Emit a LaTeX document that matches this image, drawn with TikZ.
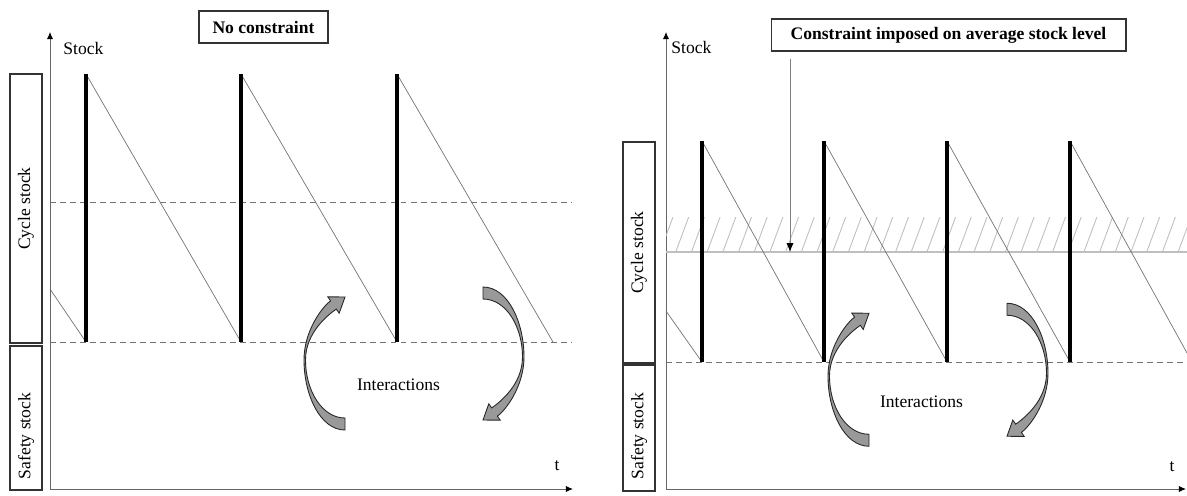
\documentclass[tikz,border=0pt]{standalone}
\usepackage{fontspec}
\setmainfont{Liberation Serif}
\usetikzlibrary{arrows.meta, fit}

\begin{document}
\begin{tikzpicture}[
    x=0.02cm, y=-0.02cm,
    axisline/.style={draw=black!60, line width=0.5pt, -{Latex[length=4pt, width=3.5pt, color=black]}},
    titlebox/.style={rectangle, draw=black!80, line width=0.6pt, minimum height=0.64cm, inner sep=0pt, font=\bfseries},
    sidebox/.style={rectangle, draw=black!80, line width=0.6pt, inner sep=0pt},
    sidelabel/.style={rotate=90, inner sep=0pt},
    plainlabel/.style={inner sep=0pt},
    orderbar/.style={line width=2.8pt},
    depletion/.style={draw=black!55, line width=0.4pt},
    levelline/.style={draw=black!55, line width=0.5pt, dash pattern=on 3.4pt off 2.3pt},
    hatchline/.style={draw=black!25, line width=0.5pt},
    interarrow/.pic={
        \path[fill=gray!80, draw=black!85, line width=0.5pt]
            (-69,71.5) .. controls (-94,71.5) and (-110,36) .. (-110,1.5)
            .. controls (-110,-28) and (-91.5,-51.9) .. (-83.4,-57.6)
            -- (-86.2,-61.7) -- (-69,-61.5) -- (-74.8,-45.3) -- (-77.7,-49.4)
            .. controls (-85.9,-43.7) and (-108.5,-26) .. (-108.5,1.5)
            .. controls (-108.5,32) and (-92,59.5) .. (-69,59.5) -- cycle;
    },
]

\useasboundingbox (0,0) rectangle (1187,495);

% left: no constraint
\coordinate (lorigin) at (50,489);
\coordinate (ltop) at (50,32);
\coordinate (lright) at (573,489);
\draw[axisline] (lorigin) -- (ltop);
\draw[axisline] (lorigin) -- (lright);
\node[plainlabel, anchor=west] (lstock) at (63,48) {Stock};
\node[plainlabel] (ltime) at (557,466) {t};
\node[titlebox, minimum width=2.58cm] (noconstraint) at (263.5,27) {No constraint};

\node[sidebox, fit={(10,74) (42,343)}] (lcycle) {};
\node[sidelabel] (lcyclelabel) at (lcycle.center) {Cycle stock};
\node[sidebox, fit={(10,346) (42,490)}] (lsafety) {};
\node[sidelabel] (lsafetylabel) at (26,436) {Safety stock};

\draw[levelline] (50,202) -- (572,202);
\draw[levelline] (50,342) -- (572,342);

\draw[depletion] (50,289) -- (86,342);
\foreach \a/\b in {86/241, 241/397, 397/553}
    \draw[depletion] (\a,74) -- (\b,342);
\foreach \a in {86, 241, 397}
    \draw[orderbar] (\a,74) -- (\a,342);

\pic at (414,358.5) {interarrow};
\pic[rotate=180] at (414,358.5) {interarrow};
\node[plainlabel] (linteractions) at (398.5,385) {Interactions};

% right: constraint on average stock level
\coordinate (rorigin) at (666,489);
\coordinate (rtop) at (666,32);
\coordinate (rright) at (1186,489);
\draw[axisline] (rorigin) -- (rtop);
\draw[axisline] (rorigin) -- (rright);
\node[plainlabel, anchor=west] (rstock) at (671,47) {Stock};
\node[plainlabel] (rtime) at (1172,467) {t};
\node[titlebox, minimum width=7.1cm] (constraint) at (948.5,35) {Constraint imposed on average stock level};

\node[sidebox, fit={(623,142) (655,363)}] (rcycle) {};
\node[sidelabel] (rcyclelabel) at (rcycle.center) {Cycle stock};
\node[sidebox, fit={(623,365) (655,491)}] (rsafety) {};
\node[sidelabel] (rsafetylabel) at (639,436) {Safety stock};

\begin{scope}
    \clip (666,217) rectangle (1187,252);
    \foreach \i in {0,...,34}
        \draw[hatchline] (660+\i*15.7,252) -- ++(13,-35);
\end{scope}
\draw[draw=black!25, line width=1.2pt] (666,252) -- (1187,252);
\coordinate (avglevel) at (790,252);
\draw[draw=black!50, line width=0.5pt, shorten <=0.14cm, -{Latex[length=5pt, width=4pt, color=black]}] (constraint.south -| avglevel) -- (avglevel);

\draw[levelline] (666,362) -- (1187,362);

\draw[depletion] (666,311) -- (702,362);
\foreach \a/\b in {702/824, 824/947, 947/1070}
    \draw[depletion] (\a,141) -- (\b,362);
\draw[depletion] (1070,141) -- (1187,353);
\foreach \a in {702, 824, 947, 1070}
    \draw[orderbar] (\a,141) -- (\a,362);

\pic at (938,374.75) {interarrow};
\pic[rotate=180] at (938,374.75) {interarrow};
\node[plainlabel] (rinteractions) at (921.5,402) {Interactions};

\end{tikzpicture}
\end{document}
